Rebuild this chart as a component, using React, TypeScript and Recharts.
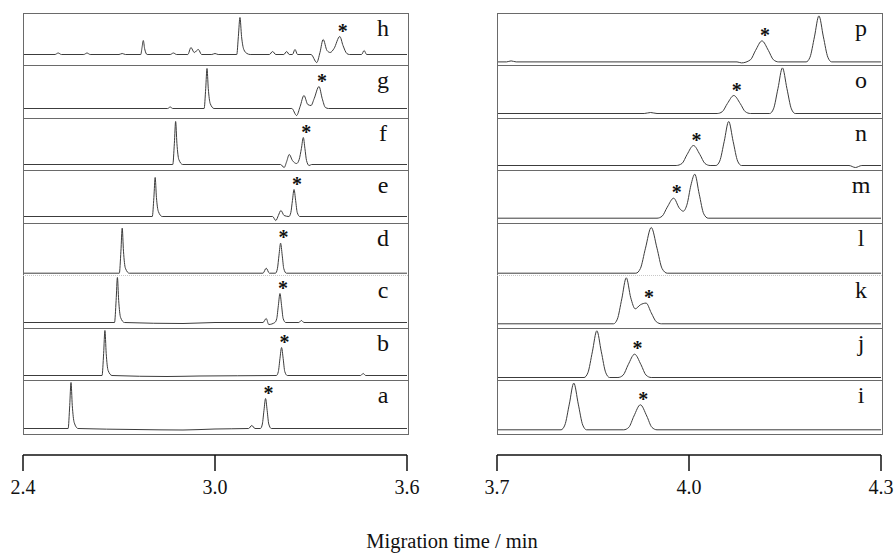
import { LineChart, Line, XAxis, YAxis, ReferenceDot } from "recharts";

type Pt = [number, number];

// traces: [migration time (min), signal above baseline]
const TRACE_A: Pt[] = [
  [2.4, 0], [2.541, 0], [2.546, 23], [2.55, 46], [2.554, 23], [2.56, 6], [2.572, 0],
  [2.75, -1], [2.9, -1.5], [3.0, -0.5], [3.105, 0], [3.115, 3], [3.125, 0],
  [3.142, 0], [3.148, 4.5], [3.153, 18], [3.158, 30], [3.163, 18], [3.168, 4.5], [3.176, 0], [3.6, 0],
];
const TRACE_B: Pt[] = [
  [2.4, 0], [2.647, 0], [2.652, 22], [2.656, 45], [2.66, 22], [2.666, 5], [2.678, 0],
  [2.85, -1], [2.95, -0.5], [3.192, 0], [3.198, 4], [3.203, 17], [3.208, 28], [3.213, 17],
  [3.218, 4], [3.226, 0], [3.455, 0], [3.463, 2], [3.471, 0], [3.6, 0],
];
const TRACE_C: Pt[] = [
  [2.4, 0], [2.686, 0], [2.691, 22], [2.695, 45], [2.699, 22], [2.705, 5], [2.717, 0],
  [2.9, -1], [3.0, 0], [3.15, 0], [3.16, 4], [3.168, -2], [3.187, 0], [3.193, 4], [3.198, 17],
  [3.203, 29], [3.208, 17], [3.213, 4], [3.221, 0], [3.262, 0], [3.27, 2], [3.278, 0], [3.6, 0],
];
const TRACE_D: Pt[] = [
  [2.4, 0], [2.701, 0], [2.706, 22], [2.71, 45], [2.714, 22], [2.72, 5], [2.732, 0],
  [3.15, 0], [3.16, 5], [3.17, 0], [3.189, 0], [3.195, 4.5], [3.2, 18], [3.205, 30],
  [3.21, 18], [3.215, 4.5], [3.223, 0], [3.6, 0],
];
const TRACE_E: Pt[] = [
  [2.4, 0], [2.804, 0], [2.809, 19], [2.813, 39], [2.817, 19], [2.823, 5], [2.835, 0],
  [3.18, 0], [3.19, -4], [3.198, 1], [3.206, 6], [3.216, 1], [3.231, 0], [3.237, 4],
  [3.242, 16], [3.247, 27], [3.252, 16], [3.257, 4], [3.265, 0], [3.6, 0],
];
const TRACE_F: Pt[] = [
  [2.4, 0], [2.868, 0], [2.873, 21], [2.877, 43], [2.881, 21], [2.887, 5], [2.899, 0],
  [3.205, 0], [3.216, -3], [3.224, 3], [3.232, 10], [3.242, 4], [3.255, 1], [3.263, 5],
  [3.27, 16], [3.276, 27], [3.281, 16], [3.286, 4], [3.294, -1], [3.302, 0], [3.6, 0],
];
const TRACE_G: Pt[] = [
  [2.4, 0], [2.852, 0], [2.86, 1.5], [2.868, 0], [2.966, 0], [2.971, 20], [2.975, 40],
  [2.979, 20], [2.985, 5], [2.997, 0], [3.24, 0], [3.255, -7], [3.266, 2], [3.278, 13],
  [3.29, 4], [3.3, 3], [3.31, 10], [3.325, 22], [3.335, 10], [3.345, 1], [3.355, 0], [3.6, 0],
];
const TRACE_H: Pt[] = [
  [2.4, 0], [2.5, 0], [2.51, 1.5], [2.52, 0], [2.59, 0], [2.6, 1.5], [2.61, 0], [2.7, 0],
  [2.71, 1], [2.72, 0], [2.768, 0], [2.772, 7], [2.776, 14], [2.78, 6], [2.788, 0],
  [2.86, 0], [2.87, 1.5], [2.88, 0], [2.915, 0], [2.925, 7], [2.935, 2], [2.948, 5],
  [2.958, 0], [2.99, 0], [3.0, 1], [3.01, 0], [3.068, 0], [3.073, 18], [3.078, 37],
  [3.083, 18], [3.09, 5], [3.1, 1], [3.11, 0], [3.17, 0], [3.18, 3], [3.19, 0], [3.215, 0],
  [3.224, 3], [3.232, 0], [3.242, 0], [3.25, 5], [3.258, 0], [3.3, 0], [3.318, -8],
  [3.328, 2], [3.338, 15], [3.35, 4], [3.36, 2], [3.372, 6], [3.39, 18], [3.4, 9],
  [3.412, 1], [3.42, 0], [3.458, 0], [3.466, 4], [3.474, 0], [3.6, 0],
];

const TRACE_I: Pt[] = [
  [3.7, 0], [3.8, 0], [3.806, 4.7], [3.813, 25.7], [3.82, 46.7], [3.827, 25.7], [3.834, 4.7],
  [3.84, 0], [3.898, 0], [3.906, 2.5], [3.914, 13.8], [3.924, 25], [3.934, 13.8],
  [3.942, 2.5], [3.95, 0], [4.3, 0],
];
const TRACE_J: Pt[] = [
  [3.7, 0], [3.836, 0], [3.842, 4.7], [3.849, 25.7], [3.856, 46.7], [3.863, 25.7], [3.87, 4.7],
  [3.876, 0], [3.889, 0], [3.897, 2.3], [3.905, 12.8], [3.915, 23.3], [3.925, 12.8],
  [3.933, 2.3], [3.941, 0], [4.3, 0],
];
const TRACE_K: Pt[] = [
  [3.7, 0], [3.882, 0], [3.888, 4.6], [3.895, 25], [3.902, 46], [3.909, 26], [3.916, 15],
  [3.924, 19], [3.933, 20.7], [3.941, 11], [3.949, 2], [3.957, 0], [4.3, 0],
];
const TRACE_L: Pt[] = [
  [3.7, 0], [3.917, 0], [3.924, 4.6], [3.932, 25], [3.941, 45.7], [3.95, 25], [3.958, 4.6],
  [3.966, 0], [4.3, 0],
];
const TRACE_M: Pt[] = [
  [3.7, 0], [3.95, 0], [3.958, 2], [3.966, 11], [3.976, 20], [3.985, 10], [3.991, 7],
  [3.997, 14], [4.003, 33], [4.009, 44], [4.016, 24], [4.023, 4.4], [4.03, 0], [4.3, 0],
];
const TRACE_N: Pt[] = [
  [3.7, 0], [3.98, 0], [3.989, 2], [3.997, 11], [4.007, 20], [4.017, 11], [4.025, 2],
  [4.033, 0], [4.042, 0], [4.048, 4.4], [4.055, 24], [4.062, 44], [4.069, 24], [4.076, 4.4],
  [4.082, 0], [4.25, 0], [4.26, -2], [4.27, 0], [4.3, 0],
];
const TRACE_O: Pt[] = [
  [3.7, 0], [3.93, 0], [3.94, 1], [3.95, 0], [4.044, 0], [4.052, 1.8], [4.06, 10], [4.07, 18],
  [4.08, 10], [4.088, 1.8], [4.096, 0], [4.126, 0], [4.132, 4.6], [4.139, 25], [4.146, 45.6],
  [4.153, 25], [4.16, 4.6], [4.166, 0], [4.3, 0],
];
const TRACE_P: Pt[] = [
  [3.7, 0], [3.715, 0], [3.722, 1], [3.73, 0], [4.075, 0], [4.082, -1], [4.096, 2.1],
  [4.104, 11.5], [4.114, 21], [4.124, 11.5], [4.132, 2.1], [4.14, 0], [4.183, 0],
  [4.189, 4.6], [4.196, 25], [4.203, 46], [4.21, 25], [4.217, 4.6], [4.223, 0], [4.3, 0],
];

const LEFT_LABELS = ["h", "g", "f", "e", "d", "c", "b", "a"];
const RIGHT_LABELS = ["p", "o", "n", "m", "l", "k", "j", "i"];
const LEFT_TICKS = [2.4, 3.0, 3.6];
const RIGHT_TICKS = [3.7, 4.0, 4.3];
const X_TITLE = "Migration time / min";

const TRACES: Record<string, Pt[]> = {
  a: TRACE_A, b: TRACE_B, c: TRACE_C, d: TRACE_D, e: TRACE_E, f: TRACE_F, g: TRACE_G, h: TRACE_H,
  i: TRACE_I, j: TRACE_J, k: TRACE_K, l: TRACE_L, m: TRACE_M, n: TRACE_N, o: TRACE_O, p: TRACE_P,
};

// the peak marked with an asterisk in each run: [time, signal]
const STARS: Record<string, Pt> = {
  a: [3.158, 30], b: [3.208, 28], c: [3.203, 29], d: [3.205, 30],
  e: [3.247, 27], f: [3.276, 27], g: [3.325, 22], h: [3.39, 18],
  i: [3.924, 25], j: [3.915, 23.3], k: [3.933, 20.7], m: [3.976, 20],
  n: [4.007, 20], o: [4.07, 18], p: [4.114, 21],
};

// layout
const ROW_H = 52.5;
const PANEL_W = 384;
const PANEL_TOP = 12.5;
const LEFT_X = 23;
const RIGHT_X = 497;
const BASE_OFFSET: Record<string, number> = {
  h: 11, g: 9, f: 6, e: 6, d: 2.3, c: 5, b: 5, a: 4,
  p: 3.6, o: 4, n: 5, m: 4.3, l: 2.3, k: 3.7, j: 3, i: 2.7,
};
const SERIF = "'Liberation Serif', 'Times New Roman', 'DejaVu Serif', serif";

function TraceRow({ label, domain, labelX }: { label: string; domain: [number, number]; labelX: number }) {
  const rows = TRACES[label].map(([t, v]) => ({ t, v }));
  const off = BASE_OFFSET[label];
  const star = STARS[label];
  return (
    <div style={{ position: "relative", width: PANEL_W, height: ROW_H }}>
      <LineChart width={PANEL_W} height={ROW_H} data={rows} margin={{ top: 0, right: 0, bottom: 0, left: 0 }}>
        <XAxis dataKey="t" type="number" domain={domain} hide allowDataOverflow />
        <YAxis type="number" domain={[-off, ROW_H - off]} hide allowDataOverflow />
        <Line
          dataKey="v"
          type="monotone"
          dot={false}
          stroke="#3c3c3c"
          strokeWidth={1}
          isAnimationActive={false}
        />
        {star && (
          <ReferenceDot
            x={star[0]}
            y={star[1]}
            r={0}
            ifOverflow="visible"
            shape={(p: any) => (
              <text
                x={p.cx + 3}
                y={p.cy + 1}
                textAnchor="middle"
                fontSize={20}
                fontWeight="bold"
                style={{ fontFamily: SERIF }}
                fill="#111"
              >
                *
              </text>
            )}
          />
        )}
      </LineChart>
      <svg width={PANEL_W} height={ROW_H} style={{ position: "absolute", left: 0, top: 0, pointerEvents: "none" }}>
        <text x={labelX} y={23} textAnchor="middle" fontSize={24} style={{ fontFamily: SERIF }} fill="#111">
          {label}
        </text>
      </svg>
    </div>
  );
}

function Panel({ x, labels, domain, ticks, labelX, dottedAfter }: {
  x: number; labels: string[]; domain: [number, number]; ticks: number[]; labelX: number; dottedAfter: string;
}) {
  const height = ROW_H * labels.length;
  return (
    <>
      <div style={{ position: "absolute", left: x, top: PANEL_TOP, width: PANEL_W, height }}>
        {labels.map((l) => (
          <TraceRow key={l} label={l} domain={domain} labelX={labelX} />
        ))}
      </div>
      {/* frame and row separators */}
      <div
        style={{
          position: "absolute", left: x - 0.5, top: PANEL_TOP, width: PANEL_W, height,
          border: "1px solid #6a6a6a", pointerEvents: "none",
        }}
      />
      {labels.slice(1).map((l, i) => (
        <div
          key={l}
          style={{
            position: "absolute", left: x - 0.5, top: PANEL_TOP + ROW_H * (i + 1), width: PANEL_W + 1,
            borderTop: labels[i] === dottedAfter ? "1px dotted #c8c8c8" : "1px solid #6a6a6a",
          }}
        />
      ))}
      <div style={{ position: "absolute", left: x - 20, top: 435 }}>
        <LineChart width={PANEL_W + 40} height={80} data={[]} margin={{ top: 0, right: 20, bottom: 0, left: 20 }}>
          <XAxis
            type="number"
            dataKey="t"
            domain={domain}
            ticks={ticks}
            interval={0}
            allowDataOverflow
            height={60}
            tickSize={16}
            tickMargin={9}
            axisLine={{ stroke: "#111", strokeWidth: 1.5 }}
            tickLine={{ stroke: "#111", strokeWidth: 1.5 }}
            tick={{ fill: "#111", fontSize: 20, fontFamily: SERIF }}
            tickFormatter={(v: number) => v.toFixed(1)}
          />
          <YAxis type="number" domain={[0, 1]} hide />
        </LineChart>
      </div>
    </>
  );
}

export default function App() {
  return (
    <div style={{ position: "absolute", left: 0, top: 0, width: 896, height: 553, background: "#fff", overflow: "hidden" }}>
      <Panel x={LEFT_X} labels={LEFT_LABELS} domain={[2.4, 3.6]} ticks={LEFT_TICKS} labelX={360} dottedAfter="d" />
      <Panel x={RIGHT_X} labels={RIGHT_LABELS} domain={[3.7, 4.3]} ticks={RIGHT_TICKS} labelX={364} dottedAfter="l" />
      <svg width={896} height={553} style={{ position: "absolute", left: 0, top: 0, pointerEvents: "none" }}>
        <text x={452} y={548} textAnchor="middle" fontSize={20.5} style={{ fontFamily: SERIF }} fill="#111">
          {X_TITLE}
        </text>
      </svg>
    </div>
  );
}
